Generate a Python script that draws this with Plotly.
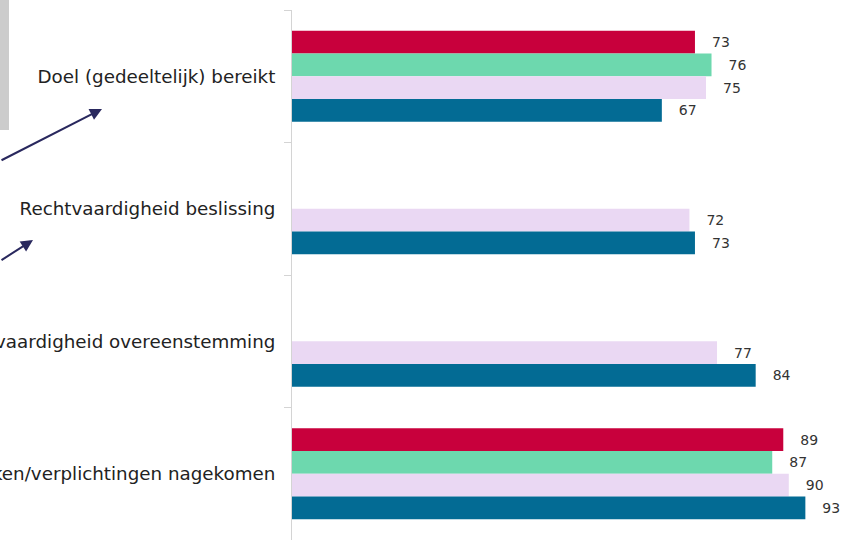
import plotly.graph_objects as go

categories = [
    "Doel (gedeeltelijk) bereikt",
    "Rechtvaardigheid beslissing",
    "Rechtvaardigheid overeenstemming",
    "Afspraken/verplichtingen nagekomen",
]
series_names = ["Serie 1", "Serie 2", "Serie 3", "Serie 4"]
red_values = [73, None, None, 89]
green_values = [76, None, None, 87]
lavender_values = [75, 72, 77, 90]
teal_values = [67, 73, 84, 93]
colors = ["#C8003C", "#6DD8AE", "#EAD8F3", "#036B94"]

all_values = [red_values, green_values, lavender_values, teal_values]

fig = go.Figure()
for name, vals, col in zip(series_names, all_values, colors):
    fig.add_trace(go.Bar(
        y=categories, x=vals, name=name, orientation="h",
        marker=dict(color=col, line=dict(width=0)),
        text=[("\u2002\u2002" + str(v)) if v is not None else "" for v in vals],
        textposition="outside",
        textfont=dict(family="DejaVu Sans", size=14, color="#333333"),
        cliponaxis=False,
    ))

L, R, T, B = 292, 2, 10, 8
W, H = 846, 548
pw = W - L - R
ph = H - T - B

def px(xp):
    return (xp - L) / pw

def py(yp):
    return (H - B - yp) / ph

fig.update_layout(
    width=W, height=H,
    margin=dict(l=L, r=R, t=T, b=B, autoexpand=False),
    barmode="group", bargap=0.313, bargroupgap=0,
    showlegend=False,
    plot_bgcolor="white", paper_bgcolor="white",
    font=dict(family="DejaVu Sans", size=18, color="#222222"),
    xaxis=dict(range=[0, 100], visible=False, fixedrange=True),
    yaxis=dict(
        autorange="reversed", tickson="boundaries", ticks="outside",
        ticklen=7, tickcolor="#d4d4d4", showline=True, linecolor="#d4d4d4",
        linewidth=1, showgrid=False, automargin=False,
        tickfont=dict(family="DejaVu Sans", size=18.3, color="#222222"),
        ticklabelstandoff=12,
    ),
    shapes=[
        dict(type="rect", xref="paper", yref="paper",
             x0=px(-20), x1=px(9), y0=py(130), y1=py(-20),
             fillcolor="#cccccc", line=dict(width=0), layer="above"),
    ],
    annotations=[
        dict(xref="paper", yref="paper", x=px(102), y=py(109), ax=-112, ay=52,
             axref="pixel", ayref="pixel", showarrow=True, arrowhead=2,
             arrowsize=1.2, arrowwidth=2, arrowcolor="#29285e", text=""),
        dict(xref="paper", yref="paper", x=px(33), y=py(240), ax=-44, ay=21,
             axref="pixel", ayref="pixel", showarrow=True, arrowhead=2,
             arrowsize=1.2, arrowwidth=2, arrowcolor="#29285e", text=""),
    ],
)

fig.write_html("out.html", config={"displayModeBar": False},
               post_script="document.body.style.margin='0';")
